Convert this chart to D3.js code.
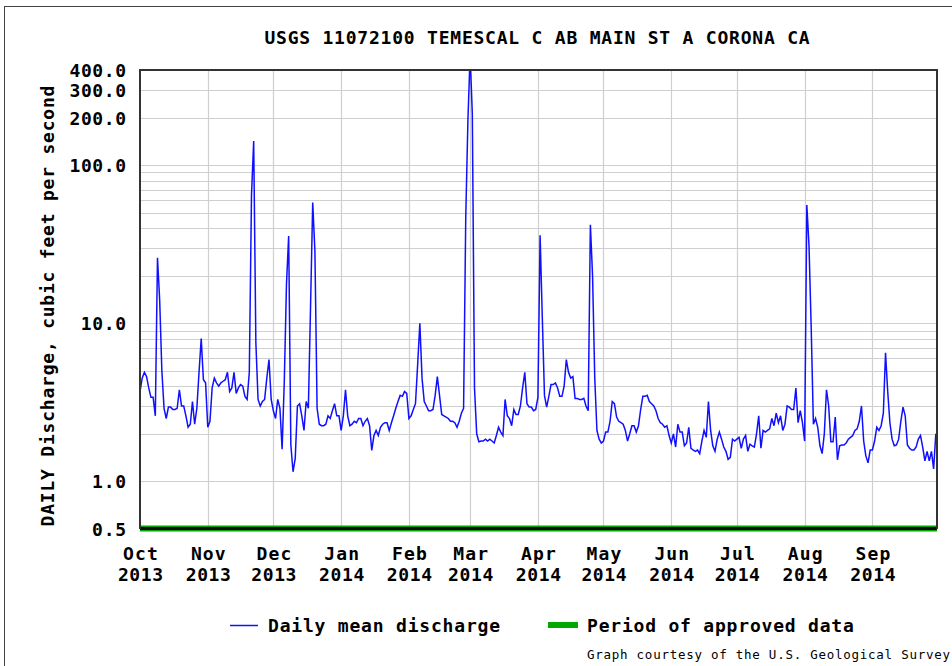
<!DOCTYPE html>
<html>
<head>
<meta charset="utf-8">
<script src="https://cdn.jsdelivr.net/npm/d3@7"></script>
<style>
  body { margin: 0; background: #fff; }
  text { font-family: "DejaVu Sans Mono", "Liberation Mono", monospace; fill: #000; }
</style>
</head>
<body>
<svg id="chart"></svg>
<script>
// daily mean discharge, cubic feet per second, one array per month (water year 2014)
const oct2013 = [3.7, 4.5, 4.9, 4.6, 3.9, 3.4, 3.4, 2.6, 26, 14, 5.0, 2.9, 2.5, 2.95, 2.95, 2.85, 2.85, 2.9, 3.8, 3.0, 3.0, 2.6, 2.2, 2.3, 3.2, 2.3, 2.9, 4.9, 8.0, 4.4, 4.2];
const nov2013 = [2.2, 2.4, 3.9, 4.5, 4.2, 4.0, 4.2, 4.3, 4.4, 4.9, 3.7, 3.9, 4.9, 3.6, 3.9, 4.1, 4.0, 3.45, 3.3, 4.9, 65, 142, 7.5, 3.3, 3.0, 3.2, 3.3, 4.5, 5.9, 3.3];
const dec2013 = [2.8, 2.5, 3.3, 2.9, 1.6, 4.3, 17.7, 35.7, 1.7, 1.15, 1.4, 3.0, 3.1, 2.6, 2.1, 3.2, 2.9, 12.6, 58, 28.7, 2.9, 2.3, 2.25, 2.25, 2.3, 2.6, 2.5, 2.8, 3.1, 2.6, 2.6];
const jan2014 = [2.1, 2.6, 3.8, 2.6, 2.25, 2.3, 2.4, 2.35, 2.5, 2.5, 2.25, 2.4, 2.5, 2.25, 1.57, 1.95, 2.1, 1.95, 2.2, 2.3, 2.35, 2.35, 2.1, 2.35, 2.6, 2.9, 3.2, 3.5, 3.45, 3.7, 3.6];
const feb2014 = [2.5, 2.6, 2.85, 3.1, 5.5, 10, 4.5, 3.2, 3.0, 2.8, 2.8, 2.85, 3.5, 4.6, 3.5, 2.65, 2.6, 2.55, 2.5, 2.4, 2.4, 2.35, 2.2, 2.4, 2.7, 2.9, 47, 195];
const mar2014 = [500, 210, 3.9, 2.0, 1.78, 1.8, 1.8, 1.85, 1.8, 1.85, 1.8, 1.75, 1.95, 2.2, 2.05, 1.95, 3.3, 2.6, 2.5, 2.25, 2.85, 2.65, 2.65, 3.0, 3.9, 4.9, 3.1, 2.95, 2.95, 2.8, 2.85];
const apr2014 = [3.4, 36, 11, 3.5, 2.95, 3.45, 4.1, 4.1, 4.2, 3.9, 3.45, 3.45, 4.0, 5.9, 4.9, 4.5, 4.6, 3.35, 3.35, 3.3, 3.3, 3.35, 3.0, 2.8, 42, 20, 4.5, 2.1, 1.85, 1.75];
const may2014 = [1.8, 2.05, 2.05, 2.4, 3.2, 3.1, 2.55, 2.4, 2.35, 2.3, 2.1, 1.8, 2.0, 2.25, 2.25, 2.05, 2.25, 2.85, 3.45, 3.45, 3.5, 3.2, 3.1, 3.0, 2.8, 2.5, 2.35, 2.3, 2.2, 2.25, 1.95];
const jun2014 = [1.75, 2.0, 1.65, 2.3, 2.05, 2.05, 1.68, 1.75, 2.2, 1.62, 1.58, 1.55, 1.58, 1.5, 1.8, 2.1, 1.9, 3.2, 2.1, 1.68, 1.55, 1.85, 2.05, 1.85, 1.65, 1.55, 1.38, 1.42, 1.85, 1.8];
const jul2014 = [1.85, 1.9, 1.62, 1.85, 1.95, 1.55, 1.72, 1.68, 1.65, 2.0, 2.6, 1.62, 2.1, 2.05, 2.1, 2.15, 2.5, 2.25, 2.7, 2.35, 2.6, 2.1, 2.3, 3.0, 2.95, 2.85, 2.85, 3.9, 2.35, 2.8, 2.35];
const aug2014 = [1.8, 56, 31, 9.4, 2.3, 2.5, 2.2, 1.68, 1.5, 2.0, 3.8, 3.0, 1.78, 1.78, 2.55, 1.37, 1.68, 1.7, 1.7, 1.75, 1.85, 1.9, 1.95, 2.1, 2.15, 2.4, 3.0, 1.8, 1.45, 1.31, 1.58];
const sep2014 = [1.58, 1.8, 2.2, 2.1, 2.25, 2.7, 6.5, 3.7, 2.35, 1.85, 1.68, 1.7, 1.85, 2.4, 2.95, 2.6, 1.7, 1.62, 1.58, 1.58, 1.65, 1.85, 1.95, 1.65, 1.35, 1.55, 1.35, 1.55, 1.2, 2.0];

const months = [oct2013, nov2013, dec2013, jan2014, feb2014, mar2014, apr2014, may2014, jun2014, jul2014, aug2014, sep2014];
const monthNames = ["Oct", "Nov", "Dec", "Jan", "Feb", "Mar", "Apr", "May", "Jun", "Jul", "Aug", "Sep"];
const monthYears = ["2013", "2013", "2013", "2014", "2014", "2014", "2014", "2014", "2014", "2014", "2014", "2014"];
const yTickValues = [0.5, 1, 10, 100, 200, 300, 400];

const title = "USGS 11072100 TEMESCAL C AB MAIN ST A CORONA CA";
const yTitle = "DAILY Discharge, cubic feet per second";
const legendLine = "Daily mean discharge";
const legendBar = "Period of approved data";
const credit = "Graph courtesy of the U.S. Geological Survey";

// flatten the months into dated points
const startDate = new Date(2013, 9, 1);
const endDate = new Date(2014, 9, 1);
const points = [];
months.forEach((vals, m) => {
  const first = d3.timeMonth.offset(startDate, m);
  vals.forEach((v, i) => points.push({ date: d3.timeDay.offset(first, i), value: v }));
});

const W = 952, H = 666;
const plot = { left: 140, right: 937, top: 70, bottom: 529 };
const charW = 11.6; // the reference font is a wide bitmap face

const svg = d3.select("#chart").attr("width", W).attr("height", H);

// stretch monospaced text to the width of the bitmap font
function fit(sel, cw) {
  sel.each(function () {
    const t = d3.select(this);
    const s = t.text();
    t.attr("textLength", s.length * cw).attr("lengthAdjust", "spacing");
  });
}

// outer frame
svg.append("rect")
  .attr("x", 4.5).attr("y", 6.5)
  .attr("width", W + 20).attr("height", H + 20)
  .attr("fill", "none").attr("stroke", "#444").attr("stroke-width", 1);

const x = d3.scaleTime().domain([startDate, endDate]).range([plot.left, plot.right + 1]);
const y = d3.scaleLog().domain([0.5, 400]).range([plot.bottom, plot.top]);

// grid
const grid = svg.append("g").attr("stroke", "#cfcfcf").attr("stroke-width", 1.2);
grid.selectAll("line.h")
  .data(y.ticks().filter(v => v >= 1 && v < 400))
  .enter().append("line")
    .attr("x1", plot.left).attr("x2", plot.right)
    .attr("y1", d => Math.round(y(d)) + 0.5).attr("y2", d => Math.round(y(d)) + 0.5);
const monthStarts = d3.timeMonth.range(startDate, endDate);
grid.selectAll("line.v")
  .data(monthStarts.slice(1))
  .enter().append("line")
    .attr("y1", plot.top).attr("y2", plot.bottom)
    .attr("x1", d => Math.round(x(d)) + 0.5).attr("x2", d => Math.round(x(d)) + 0.5);

// period of approved data along the bottom
svg.append("rect")
  .attr("x", plot.left).attr("y", plot.bottom - 3.5)
  .attr("width", plot.right - plot.left).attr("height", 6)
  .attr("fill", "#00a800");
svg.append("line")
  .attr("x1", plot.left).attr("x2", plot.right)
  .attr("y1", plot.bottom - 0.5).attr("y2", plot.bottom - 0.5)
  .attr("stroke", "#0a0a0a").attr("stroke-width", 3);

// discharge line, clipped to the plot like the original
svg.append("clipPath").attr("id", "clip")
  .append("rect")
    .attr("x", plot.left).attr("y", plot.top)
    .attr("width", plot.right - plot.left).attr("height", plot.bottom - plot.top);

const line = d3.line()
  .x(d => x(d.date))
  .y(d => y(d.value));

svg.append("path")
  .datum(points)
  .attr("clip-path", "url(#clip)")
  .attr("fill", "none")
  .attr("stroke", "#1010ff")
  .attr("stroke-width", 1.5)
  .attr("d", line);

// plot border
svg.append("path")
  .attr("d", `M${plot.left},${plot.bottom} V${plot.top} H${plot.right} V${plot.bottom}`)
  .attr("fill", "none").attr("stroke", "#333").attr("stroke-width", 2);

// y axis labels
const yAxis = svg.append("g")
  .attr("transform", `translate(${plot.left},0)`)
  .call(d3.axisLeft(y).tickValues(yTickValues).tickFormat(d3.format(".1f")).tickSize(0).tickPadding(14));
yAxis.select(".domain").remove();
yAxis.selectAll("text")
  .attr("font-family", null).attr("font-size", 18).attr("font-weight", "bold").attr("fill", "#000")
  .attr("dy", "0.36em")
  .call(fit, 11.3);

// x axis labels, month over year
const xAxis = svg.append("g")
  .attr("transform", `translate(0,${plot.bottom})`)
  .call(d3.axisBottom(x).tickValues(monthStarts).tickFormat((d, i) => monthNames[i]).tickSize(0).tickPadding(0));
xAxis.select(".domain").remove();
xAxis.selectAll("text")
  .attr("font-family", null).attr("font-size", 18).attr("font-weight", "bold").attr("fill", "#000")
  .attr("y", 31).attr("dy", null)
  .call(fit, 11.6);
xAxis.selectAll(".tick").append("text")
  .attr("font-size", 18).attr("font-weight", "bold").attr("fill", "#000").attr("text-anchor", "middle")
  .attr("y", 52)
  .text((d, i) => monthYears[i])
  .call(fit, 11.3);

// titles
svg.append("text")
  .attr("x", 537).attr("y", 44)
  .attr("text-anchor", "middle").attr("font-size", 18).attr("font-weight", "bold")
  .text(title).call(fit, charW);

svg.append("text")
  .attr("transform", "translate(54,306) rotate(-90)")
  .attr("text-anchor", "middle").attr("font-size", 18).attr("font-weight", "bold")
  .text(yTitle).call(fit, charW);

// legend
const legend = svg.append("g");
legend.append("line")
  .attr("x1", 230).attr("x2", 258).attr("y1", 625.5).attr("y2", 625.5)
  .attr("stroke", "#1010ff").attr("stroke-width", 1.5);
legend.append("text")
  .attr("x", 268).attr("y", 632).attr("font-size", 18).attr("font-weight", "bold")
  .text(legendLine).call(fit, charW);
legend.append("rect")
  .attr("x", 548).attr("y", 622).attr("width", 30).attr("height", 6)
  .attr("fill", "#00a800");
legend.append("text")
  .attr("x", 587).attr("y", 632).attr("font-size", 18).attr("font-weight", "bold")
  .text(legendBar).call(fit, charW);

svg.append("text")
  .attr("x", 587).attr("y", 659).attr("font-size", 12.5).attr("font-weight", "normal")
  .text(credit).call(fit, 8.25);
</script>
</body>
</html>
